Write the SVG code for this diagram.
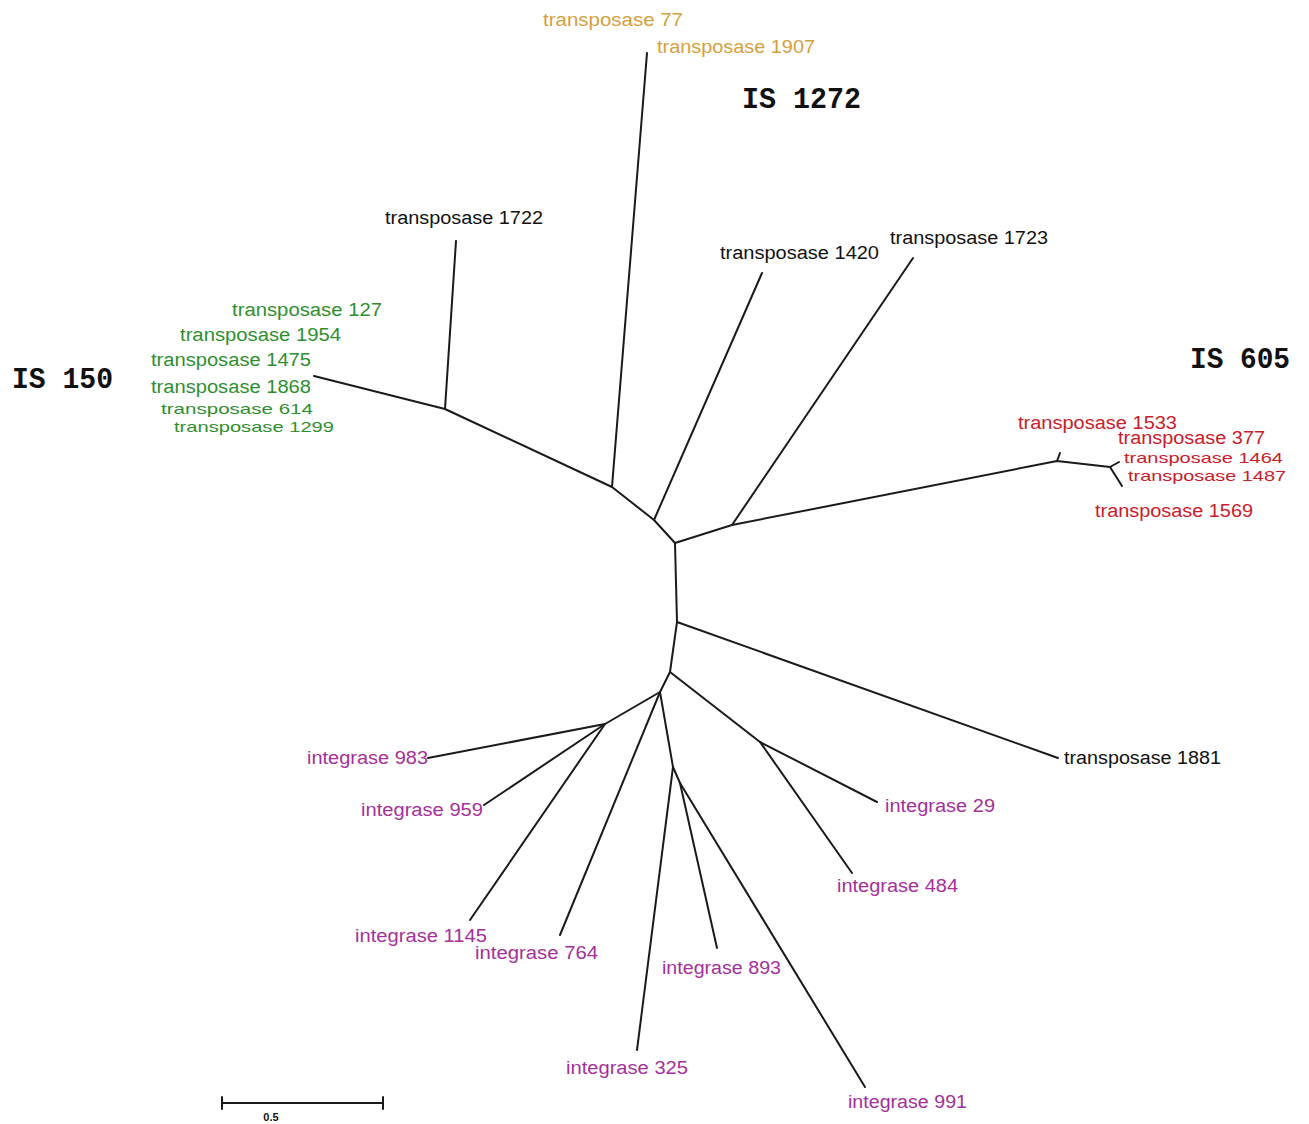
<svg xmlns="http://www.w3.org/2000/svg" width="1309" height="1124" viewBox="0 0 1309 1124">
<style>
.lbl{font-family:"Liberation Sans",Arial,sans-serif;font-size:18px;}
.tight{font-size:15px;}
.gold{fill:#d4a040;}
.grn{fill:#2f8f2f;}
.red{fill:#c8202a;}
.pur{fill:#a4309a;}
.blk{fill:#111;}
.grp{font-family:"Liberation Mono","Courier New",monospace;font-size:29px;font-weight:bold;fill:#111;}
.edge{fill:none;stroke:#1a1a1a;stroke-width:2;stroke-linejoin:round;stroke-linecap:round;}
</style>
<rect width="1309" height="1124" fill="#fff"/>
<g id="connectors">
<polyline class="edge" points="314,376 445,409 612,487 654,520 675,543 677,622 670,672 660,692"/>
<line class="edge" x1="445" y1="409" x2="456" y2="241"/>
<line class="edge" x1="612" y1="487" x2="647" y2="53"/>
<line class="edge" x1="654" y1="520" x2="762" y2="273"/>
<polyline class="edge" points="675,543 732,525 1057,461 1110,467"/>
<line class="edge" x1="732" y1="525" x2="913" y2="258"/>
<line class="edge" x1="1057" y1="461" x2="1060" y2="453"/>
<line class="edge" x1="1110" y1="467" x2="1119" y2="462"/>
<line class="edge" x1="1110" y1="467" x2="1122" y2="486"/>
<line class="edge" x1="677" y1="622" x2="1058" y2="758"/>
<line class="edge" x1="670" y1="672" x2="760" y2="742"/>
<line class="edge" x1="760" y1="742" x2="877" y2="802"/>
<line class="edge" x1="760" y1="742" x2="852" y2="873"/>
<line class="edge" x1="660" y1="692" x2="605" y2="724"/>
<line class="edge" x1="605" y1="724" x2="428" y2="758"/>
<line class="edge" x1="605" y1="724" x2="484" y2="805"/>
<line class="edge" x1="605" y1="724" x2="470" y2="920"/>
<line class="edge" x1="660" y1="692" x2="560" y2="935"/>
<line class="edge" x1="660" y1="692" x2="673" y2="767"/>
<line class="edge" x1="673" y1="767" x2="637" y2="1050"/>
<line class="edge" x1="673" y1="767" x2="680" y2="783"/>
<line class="edge" x1="680" y1="783" x2="717" y2="948"/>
<line class="edge" x1="680" y1="783" x2="865" y2="1087"/>
</g>
<g id="group-IS1272"><text class="grp" x="742" y="108" textLength="119" lengthAdjust="spacingAndGlyphs">IS 1272</text></g>
<g id="group-IS150"><text class="grp" x="12" y="388" textLength="101" lengthAdjust="spacingAndGlyphs">IS 150</text></g>
<g id="group-IS605"><text class="grp" x="1190" y="368" textLength="100" lengthAdjust="spacingAndGlyphs">IS 605</text></g>
<g id="t77"><text class="lbl gold" x="543" y="26" textLength="140" lengthAdjust="spacingAndGlyphs">transposase 77</text></g>
<g id="t1907"><text class="lbl gold" x="657" y="53" textLength="158" lengthAdjust="spacingAndGlyphs">transposase 1907</text></g>
<g id="t1722"><text class="lbl blk" x="385" y="224" textLength="158" lengthAdjust="spacingAndGlyphs">transposase 1722</text></g>
<g id="t1420"><text class="lbl blk" x="720" y="259" textLength="159" lengthAdjust="spacingAndGlyphs">transposase 1420</text></g>
<g id="t1723"><text class="lbl blk" x="890" y="244" textLength="158" lengthAdjust="spacingAndGlyphs">transposase 1723</text></g>
<g id="t127"><text class="lbl grn" x="232" y="316" textLength="150" lengthAdjust="spacingAndGlyphs">transposase 127</text></g>
<g id="t1954"><text class="lbl grn" x="180" y="341" textLength="161" lengthAdjust="spacingAndGlyphs">transposase 1954</text></g>
<g id="t1475"><text class="lbl grn" x="151" y="366" textLength="160" lengthAdjust="spacingAndGlyphs">transposase 1475</text></g>
<g id="t1868"><text class="lbl grn" x="151" y="393" textLength="160" lengthAdjust="spacingAndGlyphs">transposase 1868</text></g>
<g id="t614"><text class="lbl tight grn" x="161" y="414" textLength="152" lengthAdjust="spacingAndGlyphs">transposase 614</text></g>
<g id="t1299"><text class="lbl tight grn" x="174" y="432" textLength="160" lengthAdjust="spacingAndGlyphs">transposase 1299</text></g>
<g id="t1533"><text class="lbl red" x="1018" y="429" textLength="159" lengthAdjust="spacingAndGlyphs">transposase 1533</text></g>
<g id="t377"><text class="lbl red" x="1118" y="444" textLength="147" lengthAdjust="spacingAndGlyphs">transposase 377</text></g>
<g id="t1464"><text class="lbl tight red" x="1124" y="463" textLength="159" lengthAdjust="spacingAndGlyphs">transposase 1464</text></g>
<g id="t1487"><text class="lbl tight red" x="1128" y="481" textLength="158" lengthAdjust="spacingAndGlyphs">transposase 1487</text></g>
<g id="t1569"><text class="lbl red" x="1095" y="517" textLength="158" lengthAdjust="spacingAndGlyphs">transposase 1569</text></g>
<g id="t1881"><text class="lbl blk" x="1064" y="764" textLength="157" lengthAdjust="spacingAndGlyphs">transposase 1881</text></g>
<g id="i983"><text class="lbl pur" x="307" y="764" textLength="121" lengthAdjust="spacingAndGlyphs">integrase 983</text></g>
<g id="i959"><text class="lbl pur" x="361" y="816" textLength="122" lengthAdjust="spacingAndGlyphs">integrase 959</text></g>
<g id="i29"><text class="lbl pur" x="885" y="812" textLength="110" lengthAdjust="spacingAndGlyphs">integrase 29</text></g>
<g id="i484"><text class="lbl pur" x="837" y="892" textLength="121" lengthAdjust="spacingAndGlyphs">integrase 484</text></g>
<g id="i1145"><text class="lbl pur" x="355" y="942" textLength="132" lengthAdjust="spacingAndGlyphs">integrase 1145</text></g>
<g id="i764"><text class="lbl pur" x="475" y="959" textLength="123" lengthAdjust="spacingAndGlyphs">integrase 764</text></g>
<g id="i893"><text class="lbl pur" x="662" y="974" textLength="119" lengthAdjust="spacingAndGlyphs">integrase 893</text></g>
<g id="i325"><text class="lbl pur" x="566" y="1074" textLength="122" lengthAdjust="spacingAndGlyphs">integrase 325</text></g>
<g id="i991"><text class="lbl pur" x="848" y="1108" textLength="119" lengthAdjust="spacingAndGlyphs">integrase 991</text></g>
<g id="scale-bar">
<line class="edge" x1="222" y1="1103" x2="383" y2="1103"/>
<line class="edge" x1="222" y1="1097" x2="222" y2="1109"/>
<line class="edge" x1="383" y1="1097" x2="383" y2="1109"/>
<text x="271" y="1121" text-anchor="middle" style="font-family:'Liberation Sans',Arial,sans-serif;font-size:11px;font-weight:bold;fill:#111">0.5</text>
</g>
</svg>
